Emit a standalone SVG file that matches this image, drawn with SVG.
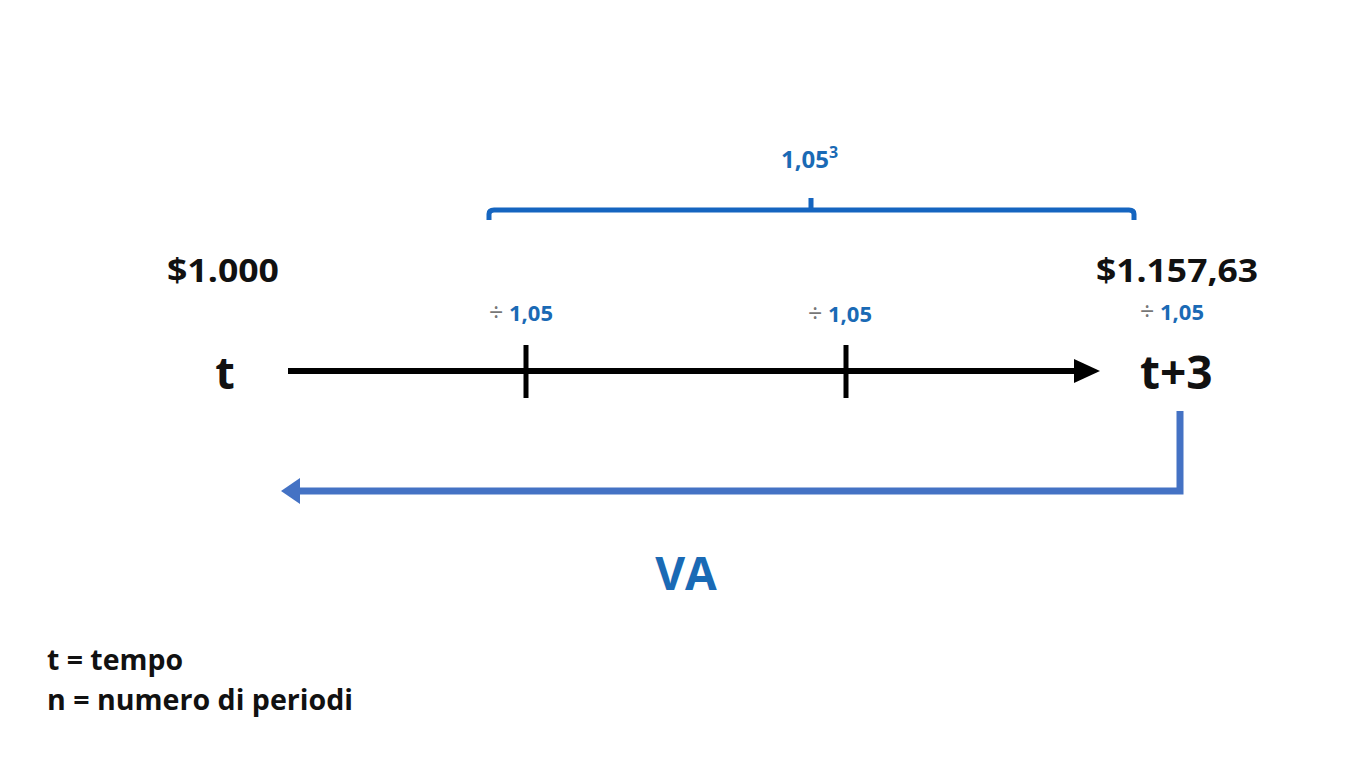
<svg xmlns="http://www.w3.org/2000/svg" width="1365" height="768" viewBox="0 0 1365 768">
<style>
.k{font-family:"Open Sans",Lato,"Liberation Sans",sans-serif;font-weight:bold;fill:#111}
.b{font-family:"Open Sans",Lato,"Liberation Sans",sans-serif;font-weight:bold;fill:#1a6ab5}
.g{fill:#777;font-weight:normal}
</style>
<rect width="1365" height="768" fill="#fff"/>
<g id="connectors">
<line x1="288" y1="371" x2="1078" y2="371" stroke="#000" stroke-width="6"/>
<path d="M1074,359 L1100,371 L1074,383 Z" fill="#000"/>
<line x1="526" y1="345" x2="526" y2="398" stroke="#000" stroke-width="5"/>
<line x1="846" y1="345" x2="846" y2="398" stroke="#000" stroke-width="5"/>
<path d="M1180,411 L1180,491 L298,491" fill="none" stroke="#4472c4" stroke-width="7"/>
<path d="M300,478 L281,491 L300,504 Z" fill="#4472c4"/>
<path d="M489,220 L489,214 Q489,210 494,210 L1129,210 Q1134,210 1134,214 L1134,220 M811,210 L811,198" fill="none" stroke="#1565c0" stroke-width="5"/>
</g>
<g id="bracket-label"><text class="b" x="781" y="168" font-size="24">1,05<tspan dy="-10" font-size="16">3</tspan></text></g>
<g id="start-value"><text class="k" x="167" y="282" font-size="33" textLength="112" lengthAdjust="spacingAndGlyphs">$1.000</text></g>
<g id="end-value"><text class="k" x="1096" y="282" font-size="33" textLength="162" lengthAdjust="spacingAndGlyphs">$1.157,63</text></g>
<g id="div1"><text class="b" x="489" y="321" font-size="22"><tspan class="g" font-size="25">÷</tspan> 1,05</text></g>
<g id="div2"><text class="b" x="808" y="322" font-size="22"><tspan class="g" font-size="25">÷</tspan> 1,05</text></g>
<g id="div3"><text class="b" x="1140" y="320" font-size="22"><tspan class="g" font-size="25">÷</tspan> 1,05</text></g>
<g id="t-start"><text class="k" x="225" y="389" font-size="45" text-anchor="middle">t</text></g>
<g id="t-end"><text class="k" x="1140" y="389" font-size="46">t+3</text></g>
<g id="va"><text class="b" x="686" y="590" font-size="46" text-anchor="middle">VA</text></g>
<g id="legend">
<text class="k" x="47" y="670" font-size="28" textLength="136" lengthAdjust="spacingAndGlyphs">t = tempo</text>
<text class="k" x="47" y="710" font-size="28" textLength="306" lengthAdjust="spacingAndGlyphs">n = numero di periodi</text>
</g>
</svg>
